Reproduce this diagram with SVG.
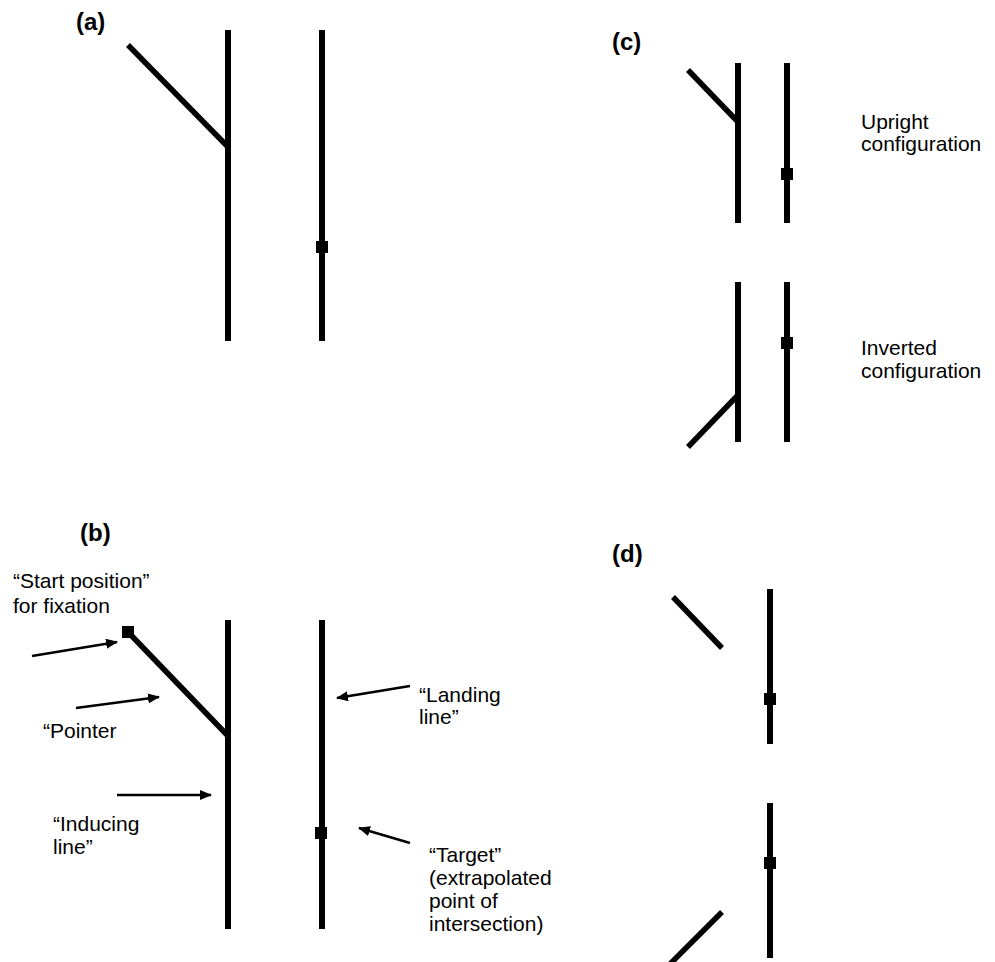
<svg xmlns="http://www.w3.org/2000/svg" width="995" height="962" viewBox="0 0 995 962">
<style>
.ln{stroke:#000;stroke-width:6;fill:none}
.pt{stroke:#000;stroke-width:5.5;fill:none}
.ar{stroke:#000;stroke-width:2.5;fill:none;marker-end:url(#ah)}
.sq{fill:#000}
.lbl{font-family:"Liberation Sans",Arial,sans-serif;font-weight:bold;font-size:24px;fill:#000}
.tx{font-family:"Liberation Sans",Arial,sans-serif;font-size:21px;fill:#000}
</style>
<defs>
<marker id="ah" markerWidth="12" markerHeight="10" refX="11" refY="5" orient="auto" markerUnits="userSpaceOnUse">
<path d="M0,0 L12,5 L0,10 Z" fill="#000"/>
</marker>
</defs>
<rect width="995" height="962" fill="#fff"/>

<g id="panel-a">
<text class="lbl" x="76" y="30">(a)</text>
<line class="ln" x1="228" y1="30" x2="228" y2="341"/>
<line class="pt" x1="128" y1="45" x2="229" y2="148"/>
<line class="ln" x1="322" y1="30" x2="322" y2="341"/>
<rect class="sq" x="316" y="241" width="12" height="12"/>
</g>

<g id="panel-b">
<text class="lbl" x="80" y="541">(b)</text>
<line class="ln" x1="228" y1="620" x2="228" y2="929"/>
<line class="pt" x1="128" y1="632" x2="229" y2="737"/>
<rect class="sq" x="122" y="626" width="12" height="12"/>
<line class="ln" x1="322" y1="620" x2="322" y2="929"/>
<rect class="sq" x="315" y="827" width="12" height="12"/>
<text class="tx" x="13" y="588">“Start position”</text>
<text class="tx" x="13" y="613">for fixation</text>
<text class="tx" x="43" y="738">“Pointer</text>
<text class="tx" x="53" y="831">“Inducing</text>
<text class="tx" x="53" y="854">line”</text>
<text class="tx" x="419" y="702">“Landing</text>
<text class="tx" x="419" y="724">line”</text>
<text class="tx" x="429" y="862">“Target”</text>
<text class="tx" x="429" y="885">(extrapolated</text>
<text class="tx" x="429" y="908">point of</text>
<text class="tx" x="429" y="931">intersection)</text>
</g>

<g id="panel-c">
<text class="lbl" x="612" y="50">(c)</text>
<line class="ln" x1="738" y1="63" x2="738" y2="223"/>
<line class="pt" x1="688" y1="70" x2="739" y2="123"/>
<line class="ln" x1="787" y1="63" x2="787" y2="223"/>
<rect class="sq" x="781" y="168" width="12" height="12"/>
<text class="tx" x="861" y="129">Upright</text>
<text class="tx" x="861" y="151">configuration</text>
<line class="ln" x1="738" y1="282" x2="738" y2="442"/>
<line class="pt" x1="739" y1="394" x2="688" y2="447"/>
<line class="ln" x1="787" y1="282" x2="787" y2="442"/>
<rect class="sq" x="781" y="337" width="12" height="12"/>
<text class="tx" x="861" y="355">Inverted</text>
<text class="tx" x="861" y="378">configuration</text>
</g>

<g id="panel-d">
<text class="lbl" x="612" y="562">(d)</text>
<line class="ln" x1="770" y1="589" x2="770" y2="744"/>
<rect class="sq" x="764" y="693" width="12" height="12"/>
<line class="pt" x1="673" y1="597" x2="722" y2="648"/>
<line class="ln" x1="770" y1="803" x2="770" y2="958"/>
<rect class="sq" x="764" y="857" width="12" height="12"/>
<line class="pt" x1="722" y1="912" x2="670" y2="964"/>
</g>

<g id="connectors">
<line class="ar" x1="32" y1="656" x2="117" y2="642"/>
<line class="ar" x1="76" y1="708" x2="159" y2="697"/>
<line class="ar" x1="117" y1="795" x2="211" y2="795"/>
<line class="ar" x1="410" y1="686" x2="337" y2="698"/>
<line class="ar" x1="410" y1="843" x2="359" y2="828"/>
</g>
</svg>
